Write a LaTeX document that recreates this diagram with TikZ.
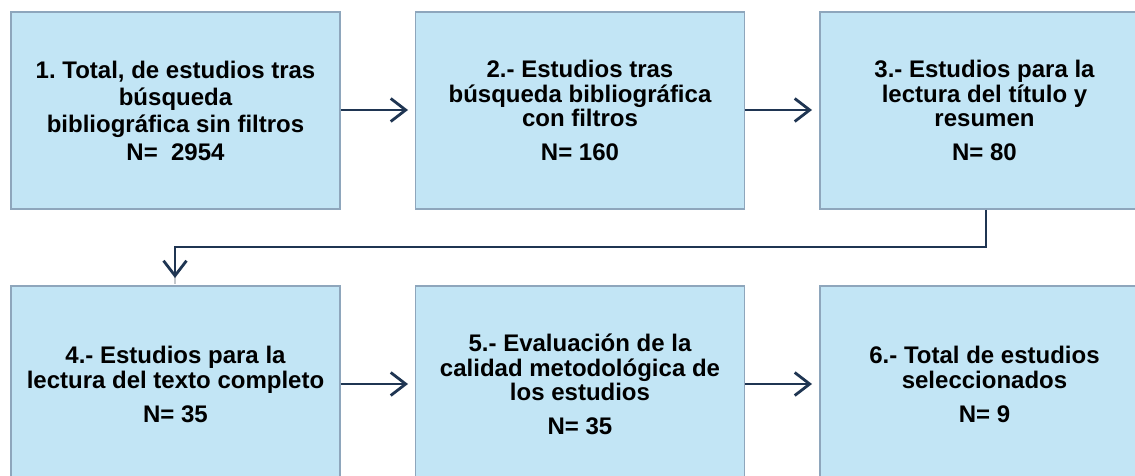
\documentclass[tikz,border=0pt]{standalone}
\usepackage{fontspec}
\setmainfont{Liberation Sans}
\usetikzlibrary{arrows.meta}
\definecolor{boxfill}{HTML}{C2E5F5}
\definecolor{boxline}{HTML}{8EA6BC}
\definecolor{arrowcol}{HTML}{1F3552}
\definecolor{shadowcol}{HTML}{C4C8CC}
\frenchspacing
\begin{document}
\begin{tikzpicture}[x=1pt,y=-1pt,
  stepbox/.style={draw=boxline,line width=1.3pt,fill=boxfill,minimum width=329pt,minimum height=197pt,
    align=center,inner sep=0pt,font=\bfseries\fontsize{24pt}{24.5pt}\selectfont},
  link/.style={draw=arrowcol,line width=2.8pt,
    -{Straight Barb[length=15pt,width=23pt,line width=2.8pt]}},
  shadowline/.style={draw=shadowcol,line width=2.6pt}
]
\clip (0,0) rectangle (1135,476);
\useasboundingbox (0,0) rectangle (1135,476);
\fill[white] (0,0) rectangle (1135,476);

\node[stepbox] (b1) at (175.5,110.5) {1.\ Total, de estudios tras\\[2.8pt] búsqueda\\[2.8pt] bibliográfica sin filtros\\[2.8pt] N=\ \ 2954};
\node[stepbox] (b2) at (580,110.5) {2.- Estudios tras\\ búsqueda bibliográfica\\ con filtros\\[9.5pt] N= 160};
\node[stepbox] (b3) at (984.5,110.5) {3.- Estudios para la\\ lectura del título y\\ resumen\\[9.5pt] N= 80};
\node[stepbox] (b4) at (175.5,384.5) {4.- Estudios para la\\ lectura del texto completo\\[9.5pt] N= 35};
\node[stepbox] (b5) at (580,384.5) {5.- Evaluación de la\\ calidad metodológica de\\ los estudios\\[9.5pt] N= 35};
\node[stepbox] (b6) at (984.5,384.5) {6.- Total de estudios\\ seleccionados\\[9.5pt] N= 9};

\coordinate (k1) at (986,247);
\coordinate (k2) at (175,247);
\coordinate (t1) at (408,110);
\coordinate (t2) at (812,110);
\coordinate (t4) at (408,384);
\coordinate (t5) at (812,384);
\coordinate (t3) at (175,278);

\begin{scope}[shift={(-1.5,-1.5)}]
\draw[shadowline] (b1.east |- t1) -- ([xshift=-6pt]t1);
\draw[shadowline] (b2.east |- t2) -- ([xshift=-6pt]t2);
\draw[shadowline] (b4.east |- t4) -- ([xshift=-6pt]t4);
\draw[shadowline] (b5.east |- t5) -- ([xshift=-6pt]t5);
\draw[shadowline] (b3.south -| k1) -- (k1) -- (k2) -- ([yshift=-6pt]t3);
\end{scope}

\draw[link] (b1.east |- t1) -- (t1);
\draw[link] (b2.east |- t2) -- (t2);
\draw[link] (b4.east |- t4) -- (t4);
\draw[link] (b5.east |- t5) -- (t5);
\draw[link] (b3.south -| k1) -- (k1) -- (k2) -- (t3);
\end{tikzpicture}
\end{document}
